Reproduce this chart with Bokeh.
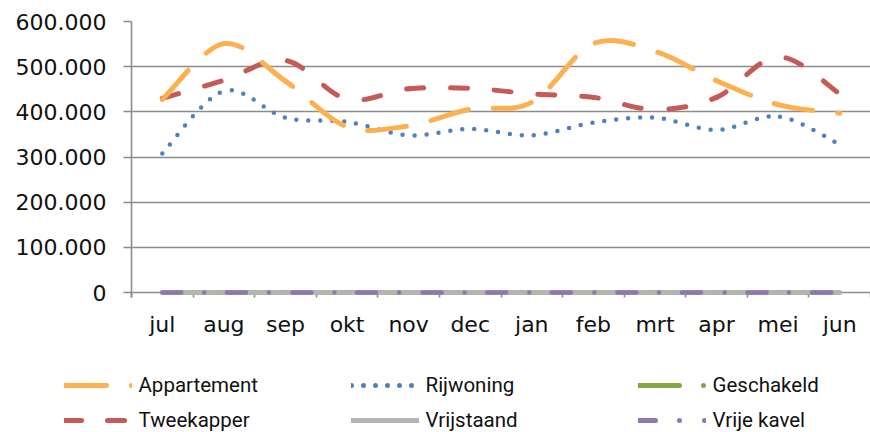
import numpy as np
from bokeh.plotting import figure
from bokeh.layouts import column
from bokeh.models import (Range1d, FixedTicker, Legend, LegendItem, ColumnDataSource)
from bokeh.embed import file_html
from bokeh.resources import INLINE

# ---------------- data ----------------
months = ["jul", "aug", "sep", "okt", "nov", "dec", "jan", "feb", "mrt", "apr", "mei", "jun"]
appartement = [427000, 551000, 468000, 367000, 369000, 406000, 421000, 551000, 534000, 469000, 416000, 397000]
rijwoning = [308000, 446000, 387000, 378000, 348000, 362000, 348000, 376000, 387000, 360000, 390000, 328000]
geschakeld = [0, 0, 0, 0, 0, 0, 0, 0, 0, 0, 0, 0]
tweekapper = [430000, 470000, 514000, 428000, 451000, 452000, 440000, 432000, 405000, 432000, 522000, 440000]
vrijstaand = [0, 0, 0, 0, 0, 0, 0, 0, 0, 0, 0, 0]
vrije_kavel = [0, 0, 0, 0, 0, 0, 0, 0, 0, 0, 0, 0]
y_ticks = [0, 100000, 200000, 300000, 400000, 500000, 600000]
y_tick_labels = ["0", "100.000", "200.000", "300.000", "400.000", "500.000", "600.000"]

# ---------------- layout ----------------
W, H = 870, 352
LEG_H = 80
BL, BT, BB = 131, 21, 55
FW, FH = W - BL, H - BT - BB
Y0, Y1 = -11000, 600000
XMAX = 12.0
PX_X = FW / XMAX
PX_Y = FH / float(Y1 - Y0)

p = figure(width=W, height=H, output_backend="svg", toolbar_location=None,
           x_range=Range1d(0, XMAX), y_range=Range1d(Y0, Y1),
           min_border_left=BL, min_border_right=0, min_border_top=BT, min_border_bottom=BB)
p.outline_line_color = None
p.background_fill_color = "white"
p.border_fill_color = "white"

GRID = "#8c8c8c"
TXT = "#111111"

p.xgrid.grid_line_color = None
p.ygrid.grid_line_color = GRID
p.ygrid.grid_line_width = 1.6

centers = [i + 0.5 for i in range(len(months))]
bounds = [float(i) for i in range(len(months) + 1)]
p.xaxis.ticker = FixedTicker(ticks=centers, minor_ticks=bounds)
p.xaxis.major_label_overrides = {c: m for c, m in zip(centers, months)}
p.xaxis.major_tick_line_color = None
p.xaxis.major_tick_out = 0
p.xaxis.major_tick_in = 0
p.xaxis.minor_tick_line_color = GRID
p.xaxis.minor_tick_line_width = 1.6
p.xaxis.minor_tick_out = 0
p.xaxis.minor_tick_in = 5
p.xaxis.axis_line_color = None
p.xaxis.major_label_standoff = 14
p.xaxis.major_label_text_font = "DejaVu Sans"
p.xaxis.major_label_text_font_size = "22px"
p.xaxis.major_label_text_color = TXT

p.yaxis.ticker = FixedTicker(ticks=y_ticks)
p.yaxis.major_label_overrides = {t: l for t, l in zip(y_ticks, y_tick_labels)}
p.yaxis.major_tick_line_color = GRID
p.yaxis.major_tick_line_width = 1.6
p.yaxis.major_tick_out = 8
p.yaxis.major_tick_in = 0
p.yaxis.minor_tick_line_color = None
p.yaxis.axis_line_color = GRID
p.yaxis.axis_line_width = 1.6
p.yaxis.major_label_standoff = 17
p.yaxis.major_label_text_font = "DejaVu Sans"
p.yaxis.major_label_text_font_size = "22px"
p.yaxis.major_label_text_color = TXT


def smooth_source(vals):
    """Bezier segments (Catmull-Rom style, like a smoothed spreadsheet line)."""
    n = len(vals)
    pts = [(c, v) for c, v in zip(centers, vals)]
    cols = {k: [] for k in ["x0", "y0", "x1", "y1", "cx0", "cy0", "cx1", "cy1", "off"]}
    acc = 0.0
    for i in range(n - 1):
        p0 = pts[i - 1] if i > 0 else pts[i]
        p1 = pts[i]
        p2 = pts[i + 1]
        p3 = pts[i + 2] if i + 2 < n else pts[i + 1]
        c1 = (p1[0] + (p2[0] - p0[0]) / 6.0, p1[1] + (p2[1] - p0[1]) / 6.0)
        c2 = (p2[0] - (p3[0] - p1[0]) / 6.0, p2[1] - (p3[1] - p1[1]) / 6.0)
        cols["x0"].append(p1[0]); cols["y0"].append(p1[1])
        cols["x1"].append(p2[0]); cols["y1"].append(p2[1])
        cols["cx0"].append(c1[0]); cols["cy0"].append(c1[1])
        cols["cx1"].append(c2[0]); cols["cy1"].append(c2[1])
        cols["off"].append(int(round(acc)))
        t = np.linspace(0, 1, 40)
        bx = ((1 - t) ** 3 * p1[0] + 3 * (1 - t) ** 2 * t * c1[0] + 3 * (1 - t) * t ** 2 * c2[0] + t ** 3 * p2[0]) * PX_X
        by = ((1 - t) ** 3 * p1[1] + 3 * (1 - t) ** 2 * t * c1[1] + 3 * (1 - t) * t ** 2 * c2[1] + t ** 3 * p2[1]) * PX_Y
        acc += float(np.sum(np.hypot(np.diff(bx), np.diff(by))))
    return ColumnDataSource(cols)


ORANGE = "#fdb04f"
BLUE = "#4f81bd"
GREEN = "#84a846"
RED = "#c55a57"
GRAY = "#b4b4b4"
PURPLE = "#8f75b1"

series = [
    ("Geschakeld", geschakeld, GREEN, 4.5, "solid", "overlay"),
    ("Vrijstaand", vrijstaand, GRAY, 4.5, "solid", "overlay"),
    ("Vrije kavel", vrije_kavel, PURPLE, 4.5, "19 23 0 23", "overlay"),
    ("Rijwoning", rijwoning, BLUE, 4.5, "0 12", "glyph"),
    ("Tweekapper", tweekapper, RED, 5, "17 27", "glyph"),
    ("Appartement", appartement, ORANGE, 5, "39 25", "glyph"),
]
for name, vals, col, lw, dash, lvl in series:
    src = smooth_source(vals)
    p.bezier(x0="x0", y0="y0", x1="x1", y1="y1", cx0="cx0", cy0="cy0", cx1="cx1", cy1="cy1",
             source=src, line_color=col, line_width=lw, line_dash=dash,
             line_dash_offset="off", line_cap="round", line_join="round", level=lvl)

# ---------------- legend figure (3 columns x 2 rows) ----------------
has_frame_align = "frame_align" in p.properties()
LEG_BL = 0 if has_frame_align else BL

pl = figure(width=W, height=LEG_H, output_backend="svg", toolbar_location=None,
            x_range=Range1d(0, 1), y_range=Range1d(0, 1),
            x_axis_location=None, y_axis_location=None,
            min_border_left=LEG_BL, min_border_right=0, min_border_top=0, min_border_bottom=0)
if has_frame_align:
    p.frame_align = False
    pl.frame_align = False
pl.outline_line_color = None
pl.grid.visible = False
pl.background_fill_color = "white"
pl.border_fill_color = "white"

legend_spec = [
    ("Appartement", ORANGE, "42 25 0 40"),
    ("Rijwoning", BLUE, "0 12"),
    ("Geschakeld", GREEN, "41 24 0 40"),
    ("Tweekapper", RED, "17 26"),
    ("Vrijstaand", GRAY, "solid"),
    ("Vrije kavel", PURPLE, "17 24 0 25 0 40"),
]
items = []
for nm, col, dash in legend_spec:
    r = pl.line(x=[np.nan], y=[np.nan], line_color=col, line_width=5, line_dash=dash, line_cap="round")
    items.append(LegendItem(label=nm, renderers=[r]))
leg = Legend(items=items, location=(63.5 - LEG_BL, 0), orientation="horizontal", ncols=3,
             glyph_width=68, glyph_height=24, label_height=24, label_width=201,
             label_standoff=7, spacing=11, padding=0, margin=0,
             border_line_color=None, background_fill_alpha=0,
             label_text_font="Roboto", label_text_font_size="20.5px",
             label_text_color=TXT)
pl.add_layout(leg)

layout = column(p, pl, spacing=0)
open("out.html", "w").write(file_html(layout, INLINE))
